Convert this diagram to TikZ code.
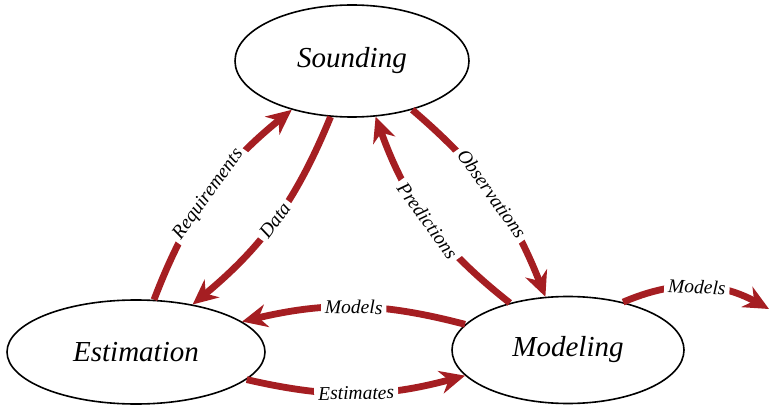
\documentclass[tikz,border=0pt]{standalone}
\usepackage{fontspec}
\setmainfont{Liberation Serif}
\usetikzlibrary{arrows.meta,shapes.geometric}
\definecolor{arrowred}{HTML}{A51E22}
\begin{document}
\begin{tikzpicture}[x=1pt,y=-1pt,
  state/.style={ellipse,draw=black,line width=1.6pt,inner sep=0pt,font=\fontsize{29}{30}\selectfont\itshape},
  flow/.style={draw=arrowred,line width=6.8pt,-{Stealth[length=25pt,width=23pt,inset=8pt]}},
  lab/.style={fill=white,inner sep=4pt,sloped,font=\fontsize{19.5}{21}\selectfont\itshape,text=black}]
\useasboundingbox (0,0) rectangle (769,409);
\node[state,minimum width=234pt,minimum height=112pt] (snd) at (352,61) {Sounding};
\node[state,minimum width=258pt,minimum height=104pt] (est) at (136,352) {Estimation};
\node[state,minimum width=232pt,minimum height=107pt] (mod) at (568,350) {Modeling};
\coordinate (out) at (769,309);
\draw[flow] (est.71) to[bend left=15] node[lab]{Requirements} (snd.219);
\draw[flow] (snd.249) to[bend left=14] node[lab]{Data} (est.40);
\draw[flow] (mod.141) to[bend left=16] node[lab]{Predictions} (snd.293);
\draw[flow] (snd.321) to[bend left=14] node[lab]{Observations} (mod.113);
\draw[flow] (mod.166) to[bend right=14] node[lab]{Models} (est.16);
\draw[flow] (est.346) to[bend right=14] node[lab]{Estimates} (mod.194);
\draw[flow] (mod.41) to[bend left=26] node[lab]{Models} (out);
\end{tikzpicture}
\end{document}
